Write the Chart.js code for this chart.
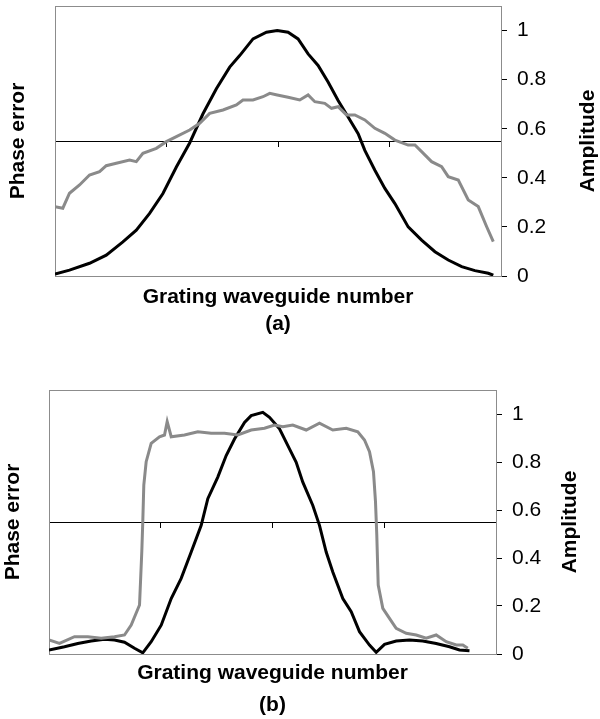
<!DOCTYPE html>
<html lang="en">
<head>
<meta charset="UTF-8">
<title>Phase error and amplitude</title>
<script src="https://cdn.jsdelivr.net/npm/chart.js"></script>
<style>
  html, body { margin: 0; padding: 0; background: #fff; }
  body { width: 600px; height: 719px; position: relative; overflow: hidden; }
  .panel { position: absolute; left: 0; }
</style>
</head>
<body>
<div class="panel" style="top:0"><canvas id="chartA" width="600" height="340"></canvas></div>
<div class="panel" style="top:360px"><canvas id="chartB" width="600" height="359"></canvas></div>
<script>
// ---- panel (a) ----
const aAmpWaveguide = [0, 3.25, 7.74, 11.49, 15.22, 18.23, 21.21, 24.20, 27.21, 30.19, 33.18, 36.18, 39.17, 41.41, 44.40, 47.41, 49.83,
  52.26, 54.50, 56.75, 58.99, 61.23, 63.48, 65.72, 67.97, 69.47, 71.72, 73.96, 76.21, 79.19, 82.20, 85.19, 88.17, 91.18, 94.16, 97.15, 98.27];
const aAmplitude = [0.008, 0.024, 0.052, 0.085, 0.139, 0.187, 0.255, 0.336, 0.444, 0.542, 0.661, 0.763, 0.851, 0.898, 0.966, 0.993, 1.0,
  0.993, 0.966, 0.905, 0.858, 0.790, 0.715, 0.648, 0.580, 0.512, 0.431, 0.357, 0.295, 0.200, 0.146, 0.099, 0.065, 0.038, 0.022, 0.011, 0.003];
const aPhaseWaveguide = [0, 1.75, 3.25, 5.50, 7.74, 9.99, 11.49, 13.74, 16.72, 18.23, 19.71, 22.72, 24.96, 27.21, 30.19, 32.44, 34.68, 37.67,
  40.67, 42.15, 44.40, 46.64, 48.15, 49.83, 52.26, 54.88, 56.75, 58.25, 60.49, 62.00, 63.48, 65.36, 67.23, 69.47, 71.72, 73.96, 76.21,
  79.19, 80.70, 82.20, 84.44, 86.69, 88.17, 90.42, 92.66, 94.90, 96.79, 98.27];
const aPhaseError = [-0.486, -0.498, -0.387, -0.326, -0.252, -0.227, -0.183, -0.165, -0.141, -0.153, -0.091, -0.054, -0.005, 0.032, 0.081,
  0.131, 0.205, 0.230, 0.267, 0.304, 0.304, 0.328, 0.353, 0.341, 0.324, 0.304, 0.341, 0.291, 0.279, 0.242, 0.254, 0.193, 0.193, 0.156,
  0.094, 0.057, 0.007, -0.030, -0.030, -0.079, -0.153, -0.190, -0.264, -0.289, -0.437, -0.486, -0.635, -0.746];

// ---- panel (b) ----
const bAmpWaveguide = [0, 3.47, 6.44, 9.44, 12.42, 14.65, 16.89, 19.13, 20.98, 22.86, 25.10, 27.34, 29.57, 31.81, 34.05, 35.53, 37.76,
  39.64, 41.50, 43.74, 45.23, 47.83, 49.33, 51.57, 53.80, 55.30, 56.78, 59.02, 60.51, 62.01, 63.49, 65.73, 67.61, 69.46, 71.70, 73.20,
  75.06, 77.67, 80.65, 83.62, 86.62, 89.60, 91.83, 94.07];
const bAmplitude = [0.017, 0.030, 0.044, 0.054, 0.061, 0.058, 0.049, 0.024, 0.005, 0.051, 0.120, 0.231, 0.315, 0.425, 0.536, 0.647, 0.737,
  0.827, 0.896, 0.965, 0.993, 1.007, 0.986, 0.938, 0.855, 0.799, 0.716, 0.619, 0.536, 0.425, 0.342, 0.231, 0.176, 0.093, 0.037, 0.007,
  0.040, 0.054, 0.058, 0.054, 0.044, 0.030, 0.017, 0.014];
const bPhaseWaveguide = [0, 2.35, 5.70, 8.68, 11.68, 14.65, 16.89, 18.39, 20.25, 20.76, 20.98, 21.21, 21.74, 22.86, 24.72, 25.84, 26.44,
  27.34, 30.31, 33.29, 36.29, 39.26, 42.24, 45.23, 48.21, 50.45, 52.30, 54.54, 57.54, 60.51, 63.49, 66.49, 69.08, 70.58, 71.70, 72.59,
  73.04, 73.33, 73.65, 74.68, 76.17, 77.67, 79.91, 82.15, 84.38, 86.62, 88.86, 91.10, 92.57, 93.69];
const bPhaseError = [-0.894, -0.919, -0.869, -0.869, -0.881, -0.869, -0.856, -0.780, -0.629, -0.225, 0.002, 0.280, 0.457, 0.596, 0.646,
  0.659, 0.760, 0.646, 0.659, 0.684, 0.672, 0.672, 0.659, 0.697, 0.710, 0.735, 0.722, 0.735, 0.697, 0.748, 0.697, 0.710, 0.684, 0.621,
  0.533, 0.381, 0.154, -0.098, -0.477, -0.654, -0.730, -0.805, -0.843, -0.856, -0.881, -0.856, -0.907, -0.932, -0.932, -0.957];

// shared tick labels
const amplitudeTicks = [0, 0.2, 0.4, 0.6, 0.8, 1];
const waveguideTicks = [25, 50, 75];

const FONT = '"Liberation Sans", Arial, sans-serif';
const GREY = '#8a8a8a';
const FRAME = '#8c8c8c';
Chart.defaults.font.family = FONT;
Chart.defaults.color = '#000';

// right-hand title reads bottom-to-top, which chart.js does not do for a right axis
const sideTitle = {
  id: 'sideTitle',
  afterDraw(chart, args, opts) {
    const { ctx, chartArea } = chart;
    ctx.save();
    ctx.translate(opts.x, (chartArea.top + chartArea.bottom) / 2);
    ctx.rotate(-Math.PI / 2);
    ctx.font = 'bold 21px ' + FONT;
    ctx.fillStyle = '#000';
    ctx.textAlign = 'center';
    ctx.textBaseline = 'middle';
    ctx.fillText(opts.text, 0, 0);
    ctx.restore();
  }
};

function points(xs, ys) {
  return xs.map((x, i) => ({ x: x, y: ys[i] }));
}

function makePanel(id, o) {
  const boldFont = { size: 21, weight: 'bold' };
  return new Chart(document.getElementById(id), {
    type: 'line',
    data: {
      datasets: [
        {
          label: 'Phase error',
          data: points(o.phaseX, o.phase),
          xAxisID: 'x', yAxisID: 'y',
          borderColor: GREY, borderWidth: 3, pointRadius: 0, tension: 0
        },
        {
          label: 'Amplitude',
          data: points(o.ampX, o.amp),
          xAxisID: 'x', yAxisID: 'y1',
          borderColor: '#000', borderWidth: 3, pointRadius: 0, tension: 0
        }
      ]
    },
    options: {
      responsive: false,
      animation: false,
      events: [],
      layout: { padding: o.padding },
      plugins: {
        legend: { display: false },
        tooltip: { enabled: false },
        title: {
          display: true, position: 'bottom', fullSize: false, text: o.label,
          font: boldFont, color: '#000', padding: { top: o.labelPad, bottom: 0 }
        },
        sideTitle: { text: 'Amplitude', x: o.ampTitleX }
      },
      scales: {
        x: {
          type: 'linear', position: 'bottom', min: 0, max: 100,
          ticks: { display: false },
          grid: { display: false, drawTicks: false },
          border: { color: FRAME },
          title: {
            display: true, text: 'Grating waveguide number', font: boldFont,
            color: '#000', padding: { top: o.xTitlePad, bottom: 0 }
          }
        },
        xTop: {
          type: 'linear', position: 'top', min: 0, max: 100,
          ticks: { display: false },
          grid: { display: false, drawTicks: false },
          border: { color: FRAME }
        },
        x0: {
          type: 'linear', position: { y: 0 }, min: 0, max: 100,
          afterBuildTicks: s => { s.ticks = waveguideTicks.map(v => ({ value: v })); },
          ticks: { display: false },
          grid: { drawOnChartArea: false, drawTicks: true, tickLength: 5, color: '#000' },
          border: { color: '#000', width: 1 }
        },
        y: {
          type: 'linear', position: 'left', min: -1, max: 1,
          ticks: { display: false },
          grid: { display: false, drawTicks: false },
          border: { color: FRAME },
          title: {
            display: true, text: 'Phase error', font: boldFont, color: '#000',
            padding: { top: o.phaseTitlePad, bottom: 0 }
          },
          afterFit: s => { s.width = o.leftWidth; }
        },
        y1: {
          type: 'linear', position: 'right', min: 0, max: 1.1,
          afterBuildTicks: s => { s.ticks = amplitudeTicks.map(v => ({ value: v })); },
          ticks: { padding: 10, font: { size: 21 }, color: '#000', callback: v => String(v) },
          grid: { drawOnChartArea: false, drawTicks: true, tickLength: 6, color: '#000' },
          border: { color: FRAME },
          afterFit: s => { s.width = o.rightWidth; s.paddingTop = 0; s.paddingBottom = 0; }
        }
      }
    },
    plugins: [sideTitle]
  });
}

makePanel('chartA', {
  ampX: aAmpWaveguide, amp: aAmplitude, phaseX: aPhaseWaveguide, phase: aPhaseError,
  label: '(a)', padding: { top: 6, left: 2, right: 0, bottom: 3.4 },
  leftWidth: 53, rightWidth: 99, phaseTitlePad: 3.9, xTitlePad: 8.4, labelPad: 1.8, ampTitleX: 588
});

makePanel('chartB', {
  ampX: bAmpWaveguide, amp: bAmplitude, phaseX: bPhaseWaveguide, phase: bPhaseError,
  label: '(b)', padding: { top: 30, left: 1, right: 0, bottom: 1.4 },
  leftWidth: 48, rightWidth: 104, phaseTitlePad: 0, xTitlePad: 6.4, labelPad: 6.8, ampTitleX: 570
});
</script>
</body>
</html>
